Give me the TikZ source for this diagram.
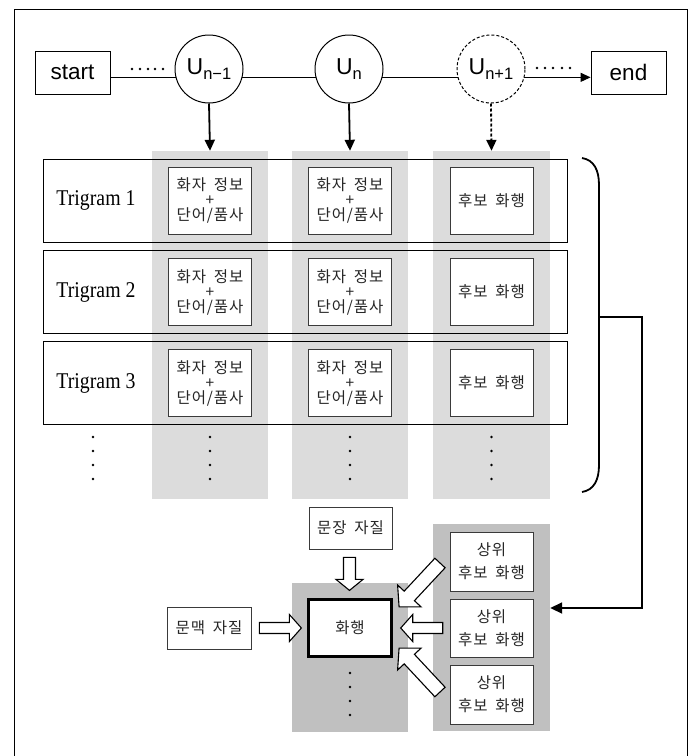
\documentclass[tikz,border=0pt]{standalone}
\usepackage{fontspec}
\setmainfont{Liberation Sans}
\newfontfamily\kr[LetterSpace=6,WordSpace=1.8]{Noto Sans CJK KR}
\newfontfamily\tms[FakeStretch=0.88]{Liberation Serif}
\usetikzlibrary{arrows.meta,calc}
\definecolor{lgray}{HTML}{DCDCDC}
\definecolor{dgray}{HTML}{C0C0C0}
\definecolor{bord}{HTML}{3A3A3A}
\definecolor{ktext}{HTML}{262626}
\tikzset{
  kfont/.style={font=\kr\fontsize{15.5}{15}\selectfont, text=ktext},
  kbox/.style={draw=bord, fill=white, line width=0.8pt, minimum width=83pt, minimum height=67pt, inner sep=0pt, align=center, kfont},
  cbox/.style={draw=bord, fill=white, line width=0.8pt, minimum width=83pt, minimum height=59pt, inner sep=0pt, align=center, font=\kr\fontsize{15.5}{23}\selectfont, text=ktext},
  fbox/.style={draw=bord, fill=white, line width=0.8pt, minimum width=83pt, minimum height=42pt, inner sep=0pt, align=center, kfont},
  sebox/.style={draw=black, line width=0.8pt, minimum width=75pt, minimum height=43pt, inner sep=0pt, font=\fontsize{22.5}{22.5}\selectfont},
  ucirc/.style={draw=black, line width=1pt, circle, minimum size=68pt, inner sep=0pt, font=\fontsize{23}{23}\selectfont},
  rowbox/.style={draw=black, line width=0.9pt, minimum width=524pt, minimum height=83pt, inner sep=0pt},
  tlabel/.style={font=\tms\fontsize{22.5}{22.5}\selectfont},
  conn/.style={line width=1pt},
  darr/.style={line width=1.8pt, -{Triangle[width=10pt,length=11pt]}},
  panel/.style={inner sep=0pt, draw=none},
  pics/fat/.style n args={4}{code={%
    \draw[fill=white, line width=1.1pt, line join=miter]
      (0,-#2) -- (#1-#4,-#2) -- (#1-#4,-#3) -- (#1,0) -- (#1-#4,#3) -- (#1-#4,#2) -- (0,#2) -- cycle;}}
}
\newcommand\sub[1]{\raisebox{-4.5pt}{\fontsize{16.5}{16.5}\selectfont #1}}
\newcommand\vdotsfour[2]{\foreach \yy in {0,14,28,42} \fill (#1,#2+\yy) circle (1.3pt);}
\begin{document}
\begin{tikzpicture}[x=1pt,y=-1pt]
\useasboundingbox (0,0) rectangle (695,756);
% frame
\draw[line width=1pt] (14,756) -- (14,9) -- (687,9) -- (687,756);

% top chain
\node[sebox] (start) at (72.5,72.5) {start};
\node[sebox] (end) at (628.5,72.5) {end};
\node[ucirc] (un1) at (209,69) {U\sub{n−1}};
\node[ucirc] (un) at (349,69) {U\sub{n}};
\node[ucirc, dash pattern=on 3pt off 2pt] (un2) at (491,69) {U\sub{n+1}};
\draw[conn] (start.east |- un1.194) -- (un1.194);
\draw[conn] (un1.-14) -- (un.194);
\draw[conn] (un.-14) -- (un2.194);
\draw[conn, -{Triangle[width=9pt,length=10pt]}] (un2.-14) -- (end.west |- un2.-14);
\foreach \x in {132,140,148,155,163} \fill (\x,69) circle (1.3pt);
\foreach \x in {537,545,553,562,570} \fill (\x,68) circle (1.3pt);

% gray columns
\node[panel, fill=lgray, minimum width=116pt, minimum height=348pt] (col1) at (210,325) {};
\node[panel, fill=lgray, minimum width=116pt, minimum height=348pt] (col2) at (350,325) {};
\node[panel, fill=lgray, minimum width=117pt, minimum height=348pt] (col3) at (491.5,325) {};

% arrows into columns
\draw[darr] (un1.south) -- (col1.north);
\draw[darr] (un.south) -- (col2.north);
\draw[darr, dash pattern=on 3pt off 2pt] (un2.south) -- (col3.north);

% rows
\node[rowbox] (r1) at (305,200.5) {};
\node[rowbox] (r2) at (305,292) {};
\node[rowbox] (r3) at (305,383) {};
\node[tlabel] (t1) at (96,200.5) {Trigram 1};
\node[tlabel] (t2) at (96,292) {Trigram 2};
\node[tlabel] (t3) at (96,383) {Trigram 3};

\foreach \r/\y in {1/200.5,2/292,3/383}{
  \node[kbox] (a\r) at (210,\y) {화자 정보\\+\\단어/품사};
  \node[kbox] (b\r) at (350,\y) {화자 정보\\+\\단어/품사};
  \node[kbox] (c\r) at (491.5,\y) {후보 화행};
}
\vdotsfour{93}{437}
\vdotsfour{210}{437}
\vdotsfour{350}{437}
\vdotsfour{491.5}{437}

% brace
\draw[line width=1.8pt] (582,158) .. controls (594,160) and (599,170) .. (599,185) -- (599,465) .. controls (599,480) and (594,490) .. (582,492);
\coordinate (bm) at (599,317);
\coordinate (turn) at (642,608);

% bottom panels
\node[panel, fill=dgray, minimum width=116pt, minimum height=149pt] (cp) at (350,657.5) {};
\node[panel, fill=dgray, minimum width=117pt, minimum height=207pt] (rp) at (491.5,627.5) {};

\draw[line width=1.8pt, -{Triangle[width=11pt,length=12pt]}] (bm) -- (bm -| turn) -- (turn) -- (rp.east |- turn);

% bottom boxes
\node[fbox] (sent) at (350.5,528) {문장 자질};
\node[fbox, minimum width=84pt] (ctx) at (209,628) {문맥 자질};
\node[draw=black, fill=white, line width=2.4pt, minimum width=83pt, minimum height=57pt, inner sep=0pt, kfont] (act) at (350,628) {화행};
\vdotsfour{350}{673}

% block arrows
\pic[rotate=-90] at ($(sent.south)+(-1,8)$) {fat={33}{6}{13.5}{11}};
\pic at ($(ctx.east)+(8,0)$) {fat={42}{5.5}{13.5}{12}};
\pic[rotate=180] at ($(act.east)+(50,0)$) {fat={42}{5.5}{13.5}{12}};
\pic[rotate=227] at (440,563) {fat={60}{7}{16}{15}};
\pic[rotate=133] at (440,692) {fat={60}{7}{16}{15}};

\node[cbox] (h1) at (491.5,561.5) {상위\\후보 화행};
\node[cbox, minimum height=58pt] (h2) at (491.5,628) {상위\\후보 화행};
\node[cbox] (h3) at (491.5,694.5) {상위\\후보 화행};
\end{tikzpicture}
\end{document}
